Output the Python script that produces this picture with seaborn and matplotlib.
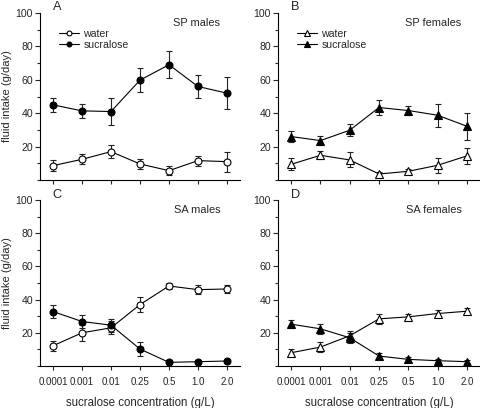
import matplotlib
matplotlib.use("Agg")
import matplotlib.pyplot as plt
import seaborn as sns
import pandas as pd
import numpy as np
from matplotlib.ticker import MultipleLocator
from matplotlib.lines import Line2D

sns.set_style("ticks")
plt.rcParams['font.family'] = ['Liberation Sans', 'DejaVu Sans']

concentrations = ["0.0001", "0.001", "0.01", "0.25", "0.5", "1.0", "2.0"]

# Panel A: SP males
a_water = [8.6, 12.4, 17.0, 9.6, 5.6, 11.6, 11.0]
a_water_err = [3.5, 3.0, 4.0, 3.0, 2.5, 3.0, 6.0]
a_sucr = [45.0, 41.4, 41.0, 59.8, 69.0, 56.0, 52.0]
a_sucr_err = [4.0, 4.0, 8.0, 7.0, 8.0, 7.0, 9.5]

# Panel B: SP females
b_water = [9.4, 14.8, 12.0, 3.6, 5.2, 8.8, 14.4]
b_water_err = [3.5, 2.5, 4.5, 1.0, 1.5, 4.5, 5.0]
b_sucr = [26.0, 23.6, 29.8, 43.4, 41.6, 38.8, 32.2]
b_sucr_err = [3.5, 2.5, 3.5, 4.5, 2.5, 7.0, 8.0]

# Panel C: SA males
c_water = [12.2, 20.0, 23.0, 37.0, 48.2, 46.0, 46.4]
c_water_err = [3.0, 5.0, 4.0, 4.5, 2.0, 2.5, 2.5]
c_sucr = [32.8, 26.8, 24.6, 10.2, 2.2, 2.6, 3.0]
c_sucr_err = [4.0, 4.0, 4.0, 4.0, 1.0, 1.0, 1.0]

# Panel D: SA females
d_water = [8.0, 11.4, 18.2, 28.4, 29.6, 31.6, 33.0]
d_water_err = [2.0, 3.0, 3.0, 3.0, 2.0, 2.0, 1.8]
d_sucr = [25.2, 22.4, 17.0, 6.0, 4.0, 3.2, 2.6]
d_sucr_err = [2.5, 3.0, 3.0, 2.0, 1.5, 1.0, 1.0]

panels = [
    ("A", "SP males", "o", a_water, a_water_err, a_sucr, a_sucr_err, True),
    ("B", "SP females", "^", b_water, b_water_err, b_sucr, b_sucr_err, True),
    ("C", "SA males", "o", c_water, c_water_err, c_sucr, c_sucr_err, False),
    ("D", "SA females", "^", d_water, d_water_err, d_sucr, d_sucr_err, False),
]

W, H = 481, 408
fig = plt.figure(figsize=(W / 100, H / 100), dpi=100)

boxes = {
    "A": (40, 13, 240, 180),
    "B": (278, 13, 480, 180),
    "C": (40, 200, 240, 366),
    "D": (278, 200, 480, 366),
}

for letter, title, marker, w, we, s, se, legend in panels:
    x0, y0, x1, y1 = boxes[letter]
    ax = fig.add_axes([x0 / W, 1 - y1 / H, (x1 - x0) / W, (y1 - y0) / H])
    pos = np.arange(len(concentrations))
    df = pd.DataFrame({
        "pos": np.concatenate([pos, pos]),
        "value": w + s,
        "series": ["water"] * len(pos) + ["sucralose"] * len(pos),
    })
    ms = 5.0 if marker == "o" else 5.8
    for name, face, vals, errs in [("water", "white", w, we), ("sucralose", "black", s, se)]:
        ax.errorbar(pos, vals, yerr=errs, fmt="none", ecolor="#222222",
                    elinewidth=0.8, capsize=2.0, capthick=0.8, zorder=2)
        sub = df[df["series"] == name]
        sns.lineplot(data=sub, x="pos", y="value", ax=ax, color="black",
                     linewidth=0.8, marker=marker, markersize=ms,
                     markerfacecolor=face, markeredgecolor="black",
                     markeredgewidth=0.8, legend=False, zorder=3)
    ax.set_xlim(-0.45, 6.45)
    ax.set_ylim(0, 100)
    ax.set_yticks([20, 40, 60, 80, 100])
    ax.yaxis.set_minor_locator(MultipleLocator(10))
    ax.set_xticks(pos)
    if letter in ("C", "D"):
        ax.set_xticklabels(concentrations)
        ax.set_xlabel("sucralose concentration (g/L)", fontsize=8.3)
        ax.xaxis.set_label_coords(0.5, -0.185)
    else:
        ax.set_xticklabels([])
        ax.set_xlabel("")
    if letter in ("A", "C"):
        ax.set_ylabel("fluid intake (g/day)", fontsize=8)
        ax.yaxis.set_label_coords(-0.14, 0.5)
    else:
        ax.set_ylabel("")
    ax.tick_params(axis="y", which="major", direction="out", length=3.5,
                   width=0.8, labelsize=7.6, pad=1.5)
    ax.tick_params(axis="x", which="major", direction="out", length=3.0,
                   width=0.8, labelsize=7.0, pad=5)
    ax.tick_params(axis="y", which="minor", direction="out", length=2.5, width=0.8)
    ax.tick_params(axis="x", which="minor", length=0)
    for sp in ("top", "right"):
        ax.spines[sp].set_visible(False)
    for sp in ("left", "bottom"):
        ax.spines[sp].set_linewidth(0.8)
        ax.spines[sp].set_color("black")
    ax.text(0.085, 1.033, letter, transform=ax.transAxes, fontsize=9.2,
            ha="center", va="center")
    tx = 0.785 if letter in ("A", "C") else 0.77
    ax.text(tx, 0.94, title, transform=ax.transAxes, fontsize=7.9,
            ha="center", va="center")
    if legend:
        handles = [
            Line2D([], [], color="black", lw=0.8, marker=marker, markersize=ms - 1.5,
                   markerfacecolor="white", markeredgecolor="black", markeredgewidth=0.8),
            Line2D([], [], color="black", lw=0.8, marker=marker, markersize=ms - 1.5,
                   markerfacecolor="black", markeredgecolor="black", markeredgewidth=0.8),
        ]
        ax.legend(handles, ["water", "sucralose"], loc="upper left",
                  bbox_to_anchor=(0.095, 0.905), frameon=False, fontsize=7.6,
                  handlelength=1.9, handletextpad=0.4, labelspacing=0.1,
                  borderpad=0, borderaxespad=0)

fig.savefig("out.png", dpi=100)
